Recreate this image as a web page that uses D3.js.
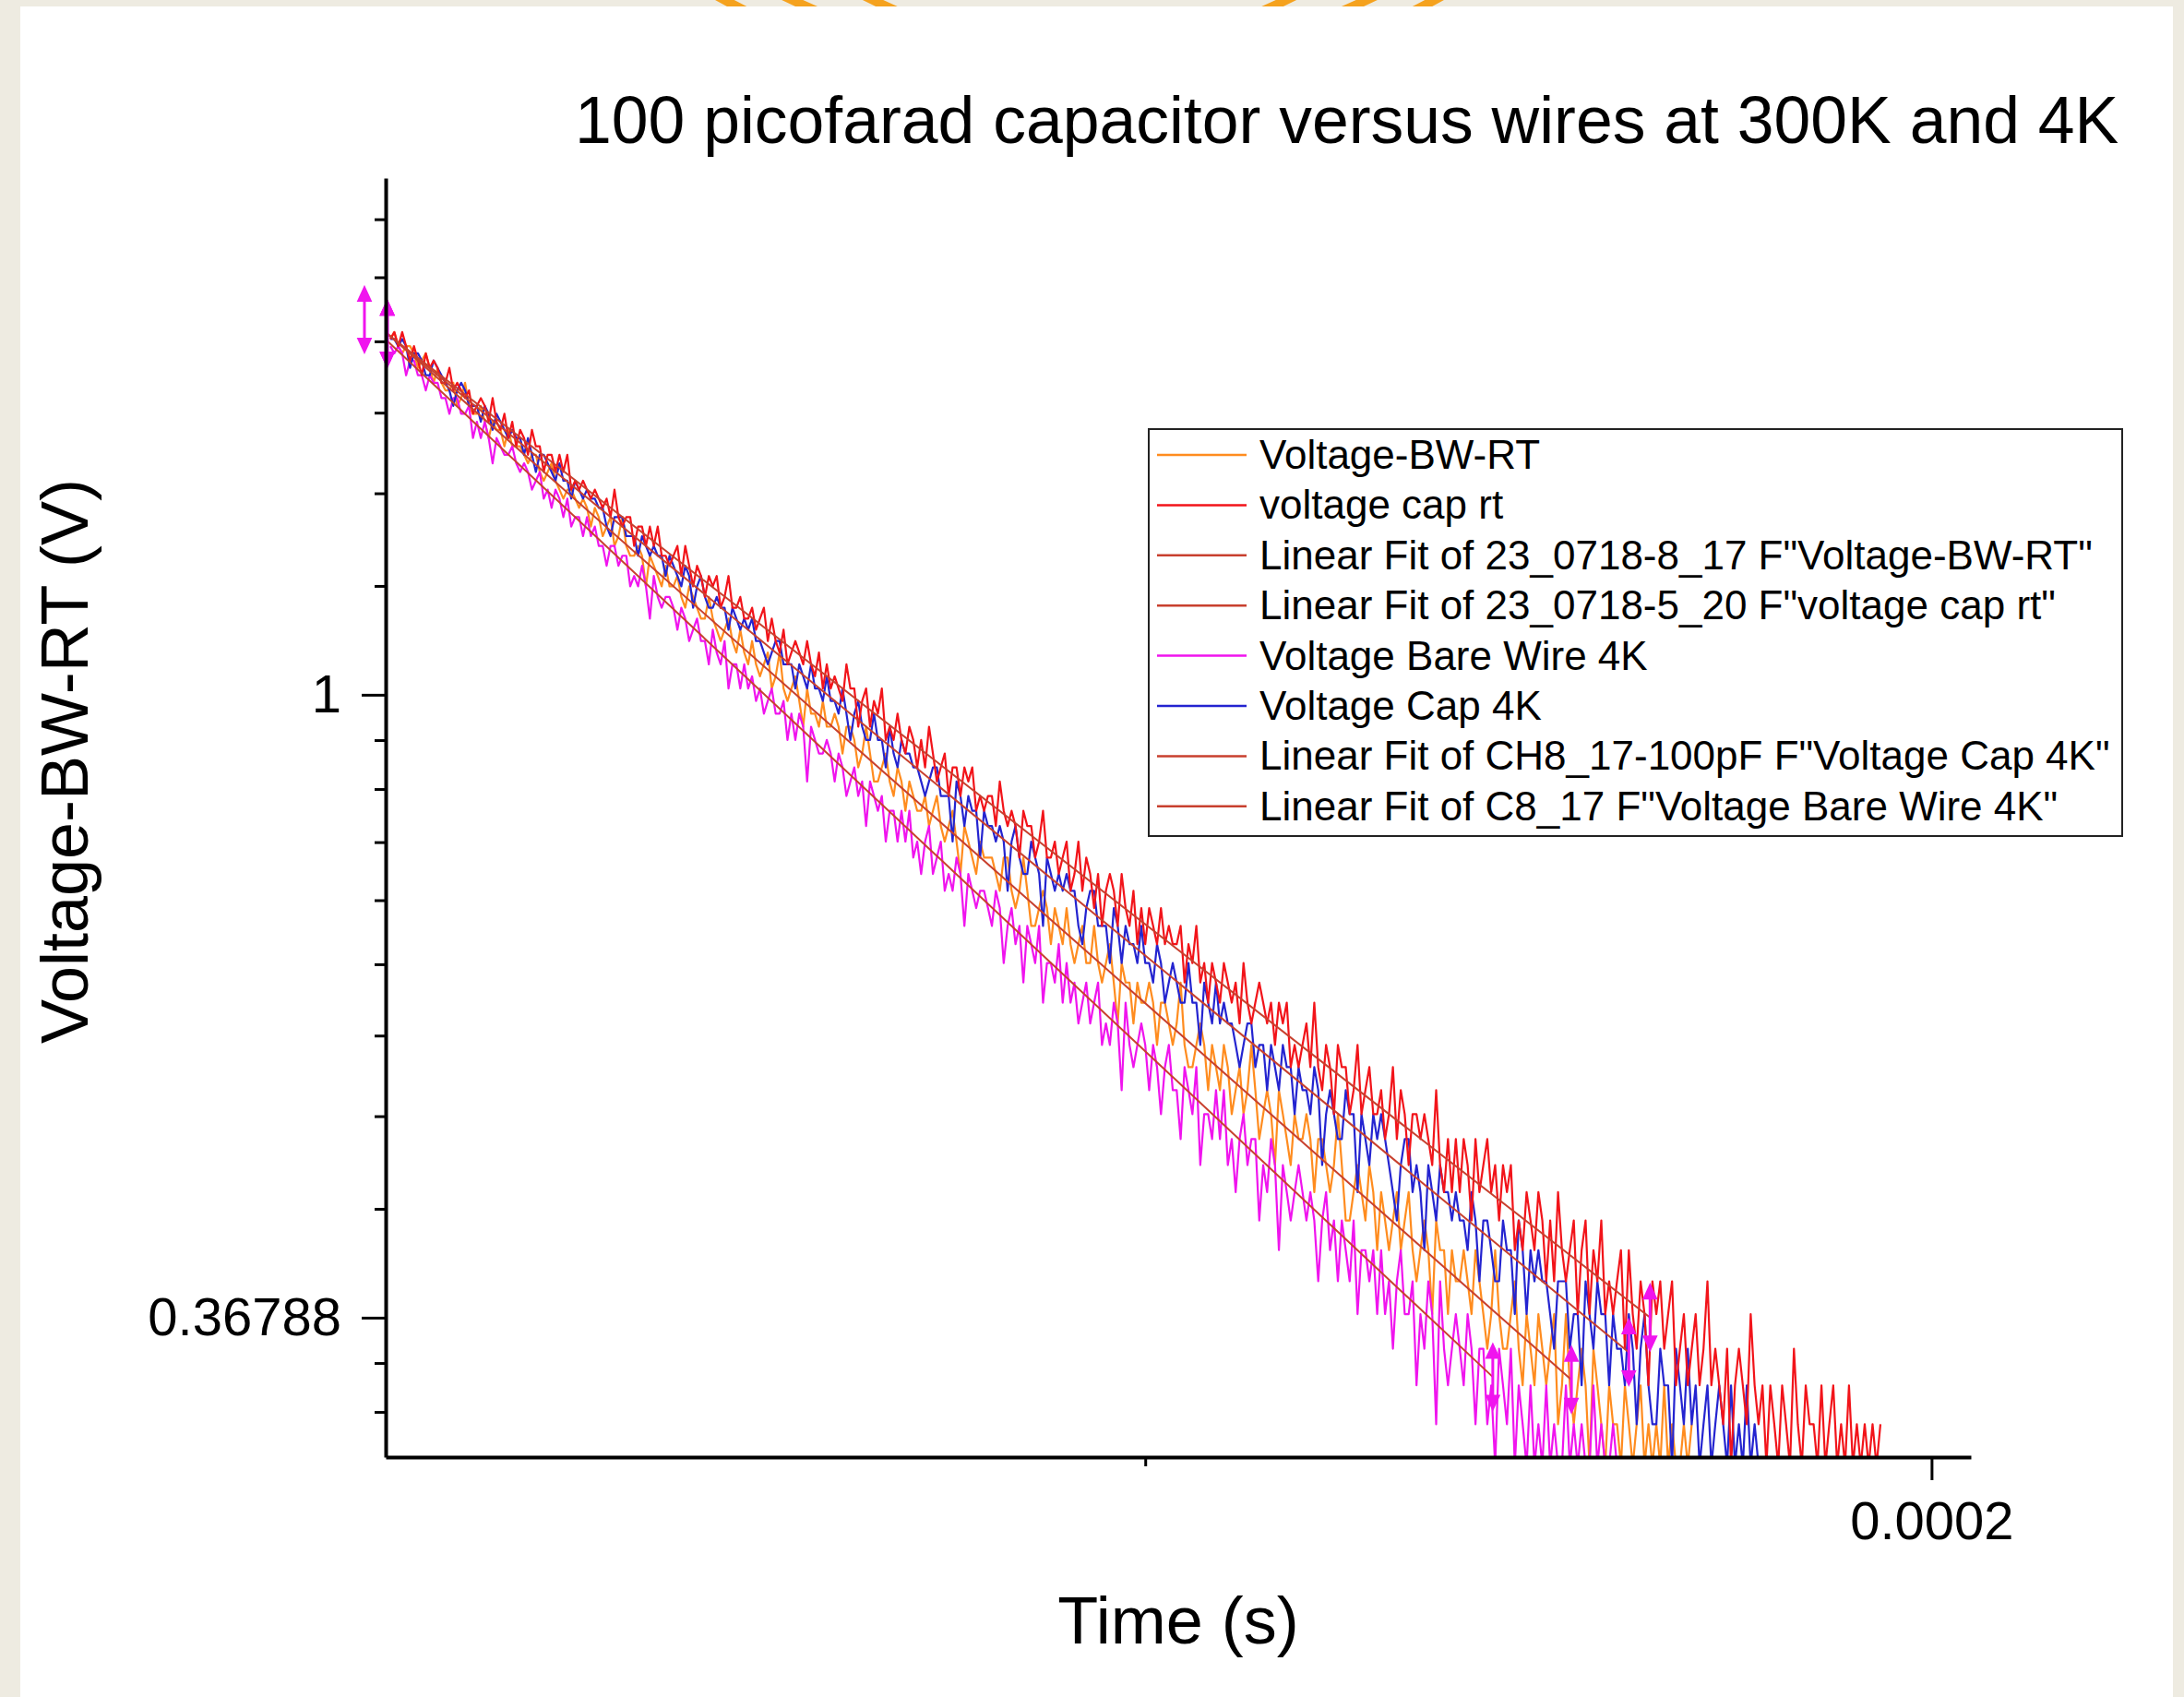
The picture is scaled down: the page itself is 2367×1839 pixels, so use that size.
<!DOCTYPE html>
<html>
<head>
<meta charset="utf-8">
<script src="https://cdn.jsdelivr.net/npm/d3@7"></script>
<style>
  body { margin: 0; background: #eeebe1; }
  svg { display: block; }
  text { font-family: "Liberation Sans", Arial, sans-serif; fill: #000; }
</style>
</head>
<body>
<div id="wrapper"></div>
<script>

// sample times in microseconds (shared by all four traces, 0.5 us apart)
const timeUs = [
  4,4.5,5,5.5,6,6.5,7,7.5,8,8.5,9,9.5,
  10,10.5,11,11.5,12,12.5,13,13.5,14,14.5,15,15.5,16,16.5,17,17.5,18,18.5,19,19.5,
  20,20.5,21,21.5,22,22.5,23,23.5,24,24.5,25,25.5,26,26.5,27,27.5,28,28.5,29,29.5,
  30,30.5,31,31.5,32,32.5,33,33.5,34,34.5,35,35.5,36,36.5,37,37.5,38,38.5,39,39.5,
  40,40.5,41,41.5,42,42.5,43,43.5,44,44.5,45,45.5,46,46.5,47,47.5,48,48.5,49,49.5,
  50,50.5,51,51.5,52,52.5,53,53.5,54,54.5,55,55.5,56,56.5,57,57.5,58,58.5,59,59.5,
  60,60.5,61,61.5,62,62.5,63,63.5,64,64.5,65,65.5,66,66.5,67,67.5,68,68.5,69,69.5,
  70,70.5,71,71.5,72,72.5,73,73.5,74,74.5,75,75.5,76,76.5,77,77.5,78,78.5,79,79.5,
  80,80.5,81,81.5,82,82.5,83,83.5,84,84.5,85,85.5,86,86.5,87,87.5,88,88.5,89,89.5,
  90,90.5,91,91.5,92,92.5,93,93.5,94,94.5,95,95.5,96,96.5,97,97.5,98,98.5,99,99.5,
  100,100.5,101,101.5,102,102.5,103,103.5,104,104.5,105,105.5,106,106.5,107,107.5,108,108.5,109,109.5,
  110,110.5,111,111.5,112,112.5,113,113.5,114,114.5,115,115.5,116,116.5,117,117.5,118,118.5,119,119.5,
  120,120.5,121,121.5,122,122.5,123,123.5,124,124.5,125,125.5,126,126.5,127,127.5,128,128.5,129,129.5,
  130,130.5,131,131.5,132,132.5,133,133.5,134,134.5,135,135.5,136,136.5,137,137.5,138,138.5,139,139.5,
  140,140.5,141,141.5,142,142.5,143,143.5,144,144.5,145,145.5,146,146.5,147,147.5,148,148.5,149,149.5,
  150,150.5,151,151.5,152,152.5,153,153.5,154,154.5,155,155.5,156,156.5,157,157.5,158,158.5,159,159.5,
  160,160.5,161,161.5,162,162.5,163,163.5,164,164.5,165,165.5,166,166.5,167,167.5,168,168.5,169,169.5,
  170,170.5,171,171.5,172,172.5,173,173.5,174,174.5,175,175.5,176,176.5,177,177.5,178,178.5,179,179.5,
  180,180.5,181,181.5,182,182.5,183,183.5,184,184.5,185,185.5,186,186.5,187,187.5,188,188.5,189,189.5,
  190,190.5,191,191.5,192,192.5,193,193.5
]

// Voltage-BW-RT (V)
const bwRtV = [
  1.77,1.79,1.75,1.73,1.75,1.75,1.73,1.69,1.71,1.73,1.69,1.65,
  1.69,1.65,1.63,1.63,1.65,1.59,1.61,1.65,1.59,1.57,1.57,1.59,1.55,1.51,1.55,1.53,1.53,1.49,1.53,1.49,
  1.49,1.49,1.47,1.45,1.47,1.47,1.43,1.41,1.43,1.45,1.41,1.39,1.37,1.39,1.39,1.37,1.35,1.37,1.35,1.31,
  1.35,1.33,1.29,1.31,1.33,1.27,1.29,1.33,1.27,1.25,1.25,1.27,1.25,1.19,1.25,1.23,1.21,1.19,1.23,1.19,
  1.19,1.21,1.17,1.15,1.19,1.17,1.15,1.13,1.13,1.17,1.13,1.11,1.09,1.11,1.13,1.09,1.07,1.11,1.07,1.05,
  1.09,1.05,1.03,1.05,1.07,1.01,1.03,1.07,1.01,0.99,1.01,1.03,0.99,0.95,1.01,0.97,0.97,0.95,0.99,0.95,
  0.95,0.97,0.95,0.91,0.95,0.95,0.93,0.89,0.91,0.95,0.91,0.87,0.87,0.89,0.91,0.87,0.85,0.89,0.87,0.83,
  0.87,0.85,0.83,0.83,0.85,0.81,0.83,0.85,0.81,0.79,0.81,0.83,0.79,0.75,0.81,0.79,0.77,0.75,0.79,0.77,
  0.77,0.77,0.75,0.73,0.77,0.77,0.73,0.71,0.73,0.77,0.73,0.69,0.69,0.71,0.73,0.71,0.67,0.71,0.69,0.67,
  0.71,0.67,0.65,0.67,0.69,0.65,0.65,0.69,0.65,0.63,0.65,0.67,0.63,0.59,0.65,0.63,0.63,0.59,0.63,0.61,
  0.61,0.63,0.61,0.57,0.61,0.61,0.59,0.57,0.59,0.63,0.57,0.55,0.55,0.57,0.59,0.57,0.53,0.57,0.55,0.53,
  0.57,0.55,0.51,0.53,0.55,0.51,0.53,0.57,0.53,0.49,0.51,0.53,0.51,0.47,0.53,0.51,0.49,0.47,0.51,0.49,
  0.49,0.51,0.49,0.45,0.49,0.49,0.47,0.45,0.47,0.51,0.47,0.43,0.43,0.45,0.47,0.45,0.43,0.47,0.45,0.41,
  0.45,0.43,0.41,0.43,0.45,0.41,0.43,0.45,0.41,0.39,0.41,0.43,0.41,0.37,0.43,0.41,0.41,0.37,0.41,0.39,
  0.39,0.41,0.39,0.37,0.41,0.39,0.37,0.35,0.37,0.41,0.37,0.35,0.35,0.37,0.39,0.35,0.33,0.37,0.35,0.33,
  0.37,0.35,0.33,0.35,0.37,0.31,0.33,0.37,0.33,0.31,0.33,0.35,0.33,0.29,0.35,0.33,0.31,0.29,0.33,0.31,
  0.31,0.29,0.33,0.31,0.29,0.31,0.33,0.29,0.31,0.29,0.31,0.29,0.33,0.29,0.31,0.29,0.29,0.31,0.29,0.31
]

// voltage cap rt (V)
const capRtV = [
  1.77,1.79,1.75,1.79,1.75,1.71,1.75,1.71,1.67,1.73,1.69,1.71,
  1.69,1.65,1.65,1.69,1.63,1.65,1.63,1.61,1.63,1.57,1.59,1.61,1.59,1.55,1.61,1.55,1.53,1.57,1.51,1.55,
  1.49,1.53,1.51,1.47,1.53,1.49,1.49,1.43,1.47,1.47,1.43,1.47,1.43,1.47,1.39,1.41,1.39,1.41,1.39,1.37,
  1.39,1.37,1.35,1.37,1.33,1.39,1.33,1.31,1.33,1.33,1.27,1.31,1.31,1.27,1.31,1.27,1.31,1.25,1.25,1.23,
  1.25,1.27,1.21,1.27,1.23,1.19,1.23,1.21,1.17,1.21,1.19,1.21,1.15,1.17,1.21,1.15,1.15,1.17,1.13,1.13,
  1.15,1.11,1.13,1.15,1.09,1.13,1.09,1.07,1.11,1.05,1.07,1.09,1.07,1.05,1.09,1.05,1.03,1.07,1.01,1.05,
  1.01,1.03,1.01,0.99,1.05,1.01,1.01,0.95,0.99,1.01,0.95,0.99,0.97,1.01,0.93,0.95,0.93,0.97,0.93,0.91,
  0.95,0.93,0.89,0.93,0.89,0.95,0.91,0.87,0.89,0.91,0.85,0.89,0.89,0.85,0.89,0.87,0.89,0.83,0.85,0.83,
  0.85,0.85,0.81,0.87,0.83,0.81,0.83,0.81,0.77,0.83,0.81,0.81,0.77,0.79,0.83,0.77,0.77,0.79,0.75,0.77,
  0.79,0.73,0.75,0.79,0.73,0.77,0.75,0.71,0.75,0.69,0.73,0.75,0.73,0.69,0.75,0.71,0.69,0.73,0.67,0.71,
  0.67,0.71,0.69,0.67,0.71,0.67,0.69,0.67,0.67,0.69,0.63,0.67,0.65,0.69,0.63,0.65,0.61,0.65,0.63,0.61,
  0.65,0.63,0.61,0.63,0.59,0.65,0.61,0.59,0.61,0.63,0.61,0.59,0.61,0.57,0.61,0.59,0.61,0.55,0.57,0.55,
  0.57,0.59,0.55,0.61,0.55,0.53,0.57,0.55,0.51,0.57,0.55,0.55,0.51,0.53,0.57,0.51,0.53,0.55,0.51,0.51,
  0.53,0.49,0.51,0.55,0.49,0.53,0.51,0.47,0.51,0.51,0.49,0.51,0.49,0.47,0.53,0.47,0.45,0.49,0.45,0.49,
  0.45,0.49,0.47,0.43,0.49,0.45,0.47,0.49,0.45,0.47,0.43,0.47,0.45,0.47,0.41,0.43,0.41,0.45,0.43,0.41,
  0.45,0.43,0.39,0.43,0.39,0.45,0.41,0.39,0.41,0.43,0.37,0.41,0.43,0.37,0.41,0.39,0.43,0.37,0.39,0.37,
  0.39,0.41,0.35,0.41,0.37,0.35,0.39,0.37,0.33,0.39,0.37,0.39,0.35,0.37,0.39,0.33,0.35,0.37,0.33,0.35,
  0.37,0.33,0.35,0.39,0.33,0.35,0.33,0.31,0.35,0.29,0.33,0.35,0.33,0.31,0.37,0.33,0.31,0.33,0.29,0.33,
  0.31,0.29,0.33,0.31,0.29,0.35,0.31,0.29,0.33,0.31,0.31,0.29,0.33,0.29,0.31,0.33,0.29,0.31,0.29,0.33,
  0.29,0.31,0.29,0.31,0.29,0.31,0.29,0.31
]

// Voltage Bare Wire 4K (V)
const bare4kV = [
  1.75,1.73,1.75,1.73,1.67,1.71,1.71,1.67,1.67,1.63,1.67,1.65,
  1.65,1.61,1.61,1.57,1.61,1.61,1.57,1.57,1.59,1.51,1.55,1.51,1.55,1.51,1.45,1.51,1.49,1.47,1.47,1.49,
  1.45,1.43,1.45,1.43,1.39,1.41,1.43,1.37,1.39,1.35,1.39,1.37,1.33,1.37,1.31,1.33,1.33,1.29,1.33,1.29,
  1.31,1.27,1.27,1.23,1.27,1.27,1.23,1.25,1.25,1.19,1.21,1.19,1.23,1.19,1.13,1.21,1.17,1.15,1.17,1.17,
  1.15,1.11,1.15,1.13,1.09,1.11,1.13,1.09,1.09,1.05,1.11,1.07,1.05,1.09,1.01,1.05,1.05,1.01,1.05,1.01,
  1.03,0.99,1.01,0.97,0.99,1.01,0.97,0.97,0.99,0.93,0.97,0.93,0.97,0.95,0.87,0.95,0.93,0.91,0.91,0.93,
  0.91,0.87,0.91,0.89,0.85,0.87,0.89,0.85,0.87,0.81,0.87,0.85,0.83,0.85,0.79,0.83,0.83,0.79,0.83,0.79,
  0.83,0.77,0.79,0.75,0.79,0.81,0.75,0.77,0.79,0.73,0.75,0.73,0.77,0.75,0.69,0.75,0.73,0.71,0.73,0.73,
  0.71,0.69,0.73,0.71,0.65,0.69,0.71,0.67,0.69,0.63,0.69,0.67,0.65,0.69,0.61,0.65,0.65,0.63,0.67,0.61,
  0.65,0.61,0.63,0.59,0.61,0.63,0.59,0.61,0.63,0.57,0.59,0.57,0.61,0.59,0.53,0.61,0.57,0.55,0.57,0.59,
  0.57,0.53,0.57,0.55,0.51,0.55,0.57,0.53,0.53,0.49,0.55,0.53,0.51,0.55,0.47,0.51,0.51,0.49,0.53,0.49,
  0.53,0.47,0.49,0.45,0.49,0.51,0.47,0.49,0.49,0.43,0.47,0.45,0.49,0.47,0.41,0.47,0.45,0.43,0.45,0.47,
  0.45,0.43,0.45,0.43,0.39,0.43,0.45,0.41,0.43,0.39,0.43,0.41,0.39,0.43,0.37,0.41,0.41,0.39,0.41,0.37,
  0.41,0.37,0.39,0.35,0.39,0.41,0.37,0.37,0.39,0.33,0.37,0.35,0.39,0.37,0.31,0.39,0.35,0.33,0.35,0.37,
  0.35,0.33,0.37,0.35,0.31,0.35,0.35,0.31,0.33,0.29,0.35,0.33,0.31,0.35,0.29,0.33,0.31,0.29,0.33,0.29,
  0.31,0.29,0.33,0.29,0.31,0.29,0.29,0.33,0.29,0.31,0.29,0.31,0.29,0.29,0.33,0.29,0.31,0.29,0.29,0.31,
  0.29,0.29
]

// Voltage Cap 4K (V)
const cap4kV = [
  1.77,1.77,1.75,1.77,1.75,1.69,1.73,1.73,1.71,1.67,1.67,1.71,
  1.69,1.67,1.65,1.63,1.59,1.63,1.65,1.63,1.59,1.59,1.59,1.55,1.59,1.57,1.53,1.57,1.55,1.53,1.51,1.53,
  1.51,1.51,1.47,1.51,1.47,1.43,1.47,1.47,1.45,1.43,1.41,1.45,1.41,1.41,1.37,1.41,1.39,1.37,1.39,1.37,
  1.37,1.35,1.35,1.31,1.29,1.33,1.33,1.33,1.29,1.29,1.29,1.25,1.29,1.27,1.25,1.27,1.25,1.25,1.21,1.25,
  1.23,1.21,1.19,1.23,1.21,1.15,1.19,1.21,1.17,1.15,1.15,1.17,1.15,1.15,1.11,1.15,1.13,1.11,1.13,1.11,
  1.13,1.09,1.09,1.07,1.05,1.07,1.09,1.09,1.05,1.05,1.05,1.01,1.05,1.03,1.01,1.05,1.01,1.01,0.99,1.03,
  0.99,0.99,0.97,1.01,0.97,0.93,0.97,0.99,0.95,0.93,0.93,0.97,0.93,0.93,0.89,0.95,0.91,0.89,0.93,0.91,
  0.91,0.89,0.89,0.87,0.85,0.87,0.89,0.89,0.85,0.85,0.85,0.79,0.87,0.85,0.81,0.85,0.83,0.83,0.77,0.83,
  0.81,0.81,0.79,0.81,0.79,0.73,0.79,0.81,0.77,0.75,0.75,0.79,0.77,0.75,0.69,0.77,0.75,0.73,0.75,0.73,
  0.75,0.73,0.73,0.69,0.67,0.71,0.73,0.73,0.69,0.69,0.69,0.65,0.71,0.69,0.65,0.69,0.67,0.67,0.65,0.69,
  0.65,0.65,0.63,0.67,0.65,0.61,0.63,0.65,0.63,0.61,0.61,0.65,0.61,0.61,0.57,0.63,0.61,0.59,0.63,0.59,
  0.61,0.59,0.59,0.57,0.55,0.57,0.59,0.59,0.55,0.57,0.57,0.53,0.57,0.55,0.53,0.57,0.55,0.55,0.51,0.55,
  0.53,0.53,0.51,0.55,0.53,0.47,0.51,0.53,0.51,0.49,0.49,0.53,0.51,0.51,0.45,0.51,0.49,0.47,0.51,0.49,
  0.51,0.49,0.47,0.45,0.43,0.47,0.49,0.49,0.45,0.47,0.45,0.41,0.47,0.45,0.43,0.47,0.45,0.45,0.43,0.45,
  0.43,0.43,0.41,0.45,0.43,0.39,0.43,0.43,0.41,0.39,0.39,0.43,0.41,0.41,0.37,0.43,0.41,0.37,0.41,0.39,
  0.41,0.39,0.39,0.37,0.35,0.39,0.39,0.39,0.35,0.37,0.37,0.33,0.39,0.37,0.35,0.39,0.37,0.37,0.33,0.37,
  0.35,0.35,0.33,0.37,0.35,0.31,0.35,0.37,0.33,0.31,0.31,0.35,0.33,0.33,0.29,0.35,0.33,0.31,0.35,0.31,
  0.33,0.29,0.31,0.33,0.29,0.31,0.33,0.31,0.29,0.33,0.29,0.31,0.29,0.33,0.29,0.31,0.29,0.29
]

// linear fits (straight on the ln axis): start / end of each fit range
// order: BW-RT, cap rt, Cap 4K, Bare Wire 4K
const fitStartUs = [3.6, 3.6, 3.6, 0.7]
const fitStartV = [1.786, 1.785, 1.785, 1.826]
const fitEndUs = [154.2, 164.2, 161.5, 144.2]
const fitEndV = [0.333, 0.368, 0.348, 0.3345]

const legendNames = [
  "Voltage-BW-RT",
  "voltage cap rt",
  "Linear Fit of 23_0718-8_17 F\"Voltage-BW-RT\"",
  "Linear Fit of 23_0718-5_20 F\"voltage cap rt\"",
  "Voltage Bare Wire 4K",
  "Voltage Cap 4K",
  "Linear Fit of CH8_17-100pF F\"Voltage Cap 4K\"",
  "Linear Fit of C8_17 F\"Voltage Bare Wire 4K\""
]

const yMajorTicks = [Math.exp(-1), 1]
const yTickLabels = ["0.36788", "1"]
const xMajorTicks = [0.0002]
const xTickLabels = ["0.0002"]
const xMinorTicks = [0.0001]

const title = "100 picofarad capacitor versus wires at 300K and 4K"
const xTitle = "Time (s)"
const yTitle = "Voltage-BW-RT (V)"

function drawChart() {

  const colors = {
    orange: "#ff8c1f",
    red: "#f2141a",
    magenta: "#f014ee",
    blue: "#2424d0",
    fit: "#c8402e",
  }
  const legendColors = [colors.orange, colors.red, colors.fit, colors.fit,
    colors.magenta, colors.blue, colors.fit, colors.fit]

  const width = 2367
  const height = 1839
  const plot = { left: 418, right: 2136, top: 193, bottom: 1579 }

  const svg = d3.select("#wrapper").append("svg")
      .attr("width", width)
      .attr("height", height)

  // slide decoration: orange rings peeking out above the white panel
  const rings = [
    { cy: -697, r: 796 },
    { cy: -647, r: 718 },
    { cy: -447, r: 500 },
  ]
  svg.selectAll(".ring")
    .data(rings)
    .enter().append("circle")
      .attr("class", "ring")
      .attr("cx", 1170)
      .attr("cy", d => d.cy)
      .attr("r", d => d.r)
      .attr("fill", "none")
      .attr("stroke", "#f5a21e")
      .attr("stroke-width", 10)

  svg.append("rect")
      .attr("x", 22)
      .attr("y", 7)
      .attr("width", 2355 - 22)
      .attr("height", height - 7)
      .attr("fill", "#ffffff")

  // scales
  const xScale = d3.scaleLinear()
    .domain([3.4e-6, 2.05e-4])
    .range([plot.left, plot.right])

  const yScale = d3.scaleLog()
    .base(Math.E)
    .domain([0.2941, 2.292])
    .range([plot.bottom, plot.top])

  // minor ticks: 8 linear steps inside each e-decade
  const yMinorTicks = []
  ;[-2, -1, 0].forEach(p => {
    const lo = Math.exp(p)
    const hi = Math.exp(p + 1)
    d3.range(1, 9).forEach(k => yMinorTicks.push(lo + k * (hi - lo) / 9))
  })
  const yDomain = yScale.domain()
  const yMinorIn = yMinorTicks.filter(v => v > yDomain[0] && v < yDomain[1])

  // data
  const toPoints = values => values.map((v, i) => ({ t: timeUs[i], v }))
  const series = [
    { values: toPoints(bwRtV), color: colors.orange },
    { values: toPoints(bare4kV), color: colors.magenta },
    { values: toPoints(cap4kV), color: colors.blue },
    { values: toPoints(capRtV), color: colors.red },
  ]
  const fits = fitStartUs.map((t0, i) => [
    { t: t0, v: fitStartV[i] },
    { t: fitEndUs[i], v: fitEndV[i] },
  ])

  svg.append("clipPath")
      .attr("id", "plot-clip")
    .append("rect")
      .attr("x", plot.left)
      .attr("y", plot.top)
      .attr("width", plot.right - plot.left)
      .attr("height", plot.bottom - plot.top)

  const lineGenerator = d3.line()
    .x(d => xScale(d.t * 1e-6))
    .y(d => yScale(d.v))

  const dataGroup = svg.append("g")
      .attr("clip-path", "url(#plot-clip)")

  dataGroup.selectAll(".trace")
    .data(series)
    .enter().append("path")
      .attr("class", "trace")
      .attr("d", d => lineGenerator(d.values))
      .attr("fill", "none")
      .attr("stroke", d => d.color)
      .attr("stroke-width", 2.2)
      .attr("stroke-linejoin", "round")

  dataGroup.selectAll(".fit")
    .data(fits)
    .enter().append("path")
      .attr("class", "fit")
      .attr("d", lineGenerator)
      .attr("fill", "none")
      .attr("stroke", colors.fit)
      .attr("stroke-width", 2)

  // fit range markers (double arrows at both ends of each fit)
  const markerPath = "M0,-22V22M0,-34L-6,-21L6,-21ZM0,34L-6,21L6,21Z"
  const markerPoints = d3.merge(fits)
  svg.selectAll(".range-marker")
    .data(markerPoints)
    .enter().append("path")
      .attr("class", "range-marker")
      .attr("d", markerPath)
      .attr("transform", d => `translate(${xScale(d.t * 1e-6)},${yScale(d.v)})`)
      .attr("fill", colors.magenta)
      .attr("stroke", colors.magenta)
      .attr("stroke-width", 3)

  // axes
  const styleAxis = g => {
    g.selectAll(".domain").attr("stroke", "#000").attr("stroke-width", 4)
    g.selectAll(".tick line").attr("stroke", "#000").attr("stroke-width", 3)
  }

  const yMinorAxis = svg.append("g")
      .attr("transform", `translate(${plot.left},0)`)
      .call(d3.axisLeft(yScale).tickValues(yMinorIn).tickSize(12).tickFormat(""))
  yMinorAxis.select(".domain").remove()
  styleAxis(yMinorAxis)

  const yAxis = svg.append("g")
      .attr("transform", `translate(${plot.left},0)`)
      .call(d3.axisLeft(yScale)
        .tickValues(yMajorTicks)
        .tickFormat((d, i) => yTickLabels[i])
        .tickSize(26)
        .tickSizeOuter(0)
        .tickPadding(22))
  styleAxis(yAxis)
  yAxis.selectAll("text")
      .attr("font-size", 58)
      .attr("font-family", "Liberation Sans, Arial, sans-serif")
      .attr("fill", "#000")

  const xMinorAxis = svg.append("g")
      .attr("transform", `translate(0,${plot.bottom})`)
      .call(d3.axisBottom(xScale).tickValues(xMinorTicks).tickSize(10).tickFormat(""))
  xMinorAxis.select(".domain").remove()
  styleAxis(xMinorAxis)

  const xAxis = svg.append("g")
      .attr("transform", `translate(0,${plot.bottom})`)
      .call(d3.axisBottom(xScale)
        .tickValues(xMajorTicks)
        .tickFormat((d, i) => xTickLabels[i])
        .tickSize(25)
        .tickSizeOuter(0)
        .tickPadding(23))
  styleAxis(xAxis)
  xAxis.selectAll("text")
      .attr("font-size", 58)
      .attr("font-family", "Liberation Sans, Arial, sans-serif")
      .attr("fill", "#000")

  // titles
  svg.append("text")
      .attr("x", 623)
      .attr("y", 155)
      .attr("font-size", 71.5)
      .text(title)

  svg.append("text")
      .attr("x", (plot.left + plot.right) / 2)
      .attr("y", 1781)
      .attr("text-anchor", "middle")
      .attr("font-size", 72)
      .text(xTitle)

  svg.append("text")
      .attr("transform", "translate(95,825) rotate(-90)")
      .attr("text-anchor", "middle")
      .attr("font-size", 72)
      .text(yTitle)

  // legend
  const legend = svg.append("g")
  legend.append("rect")
      .attr("x", 1245)
      .attr("y", 465)
      .attr("width", 2300 - 1245)
      .attr("height", 906 - 465)
      .attr("fill", "#fff")
      .attr("stroke", "#222")
      .attr("stroke-width", 2)

  const rows = legend.selectAll(".legend-row")
    .data(legendNames)
    .enter().append("g")
      .attr("class", "legend-row")
      .attr("transform", (d, i) => `translate(0,${493 + i * 54.4})`)

  rows.append("line")
      .attr("x1", 1254)
      .attr("x2", 1351)
      .attr("stroke", (d, i) => legendColors[i])
      .attr("stroke-width", 2.5)

  rows.append("text")
      .attr("x", 1365)
      .attr("y", 15)
      .attr("font-size", 44)
      .text(d => d)
}
drawChart()

</script>
</body>
</html>
